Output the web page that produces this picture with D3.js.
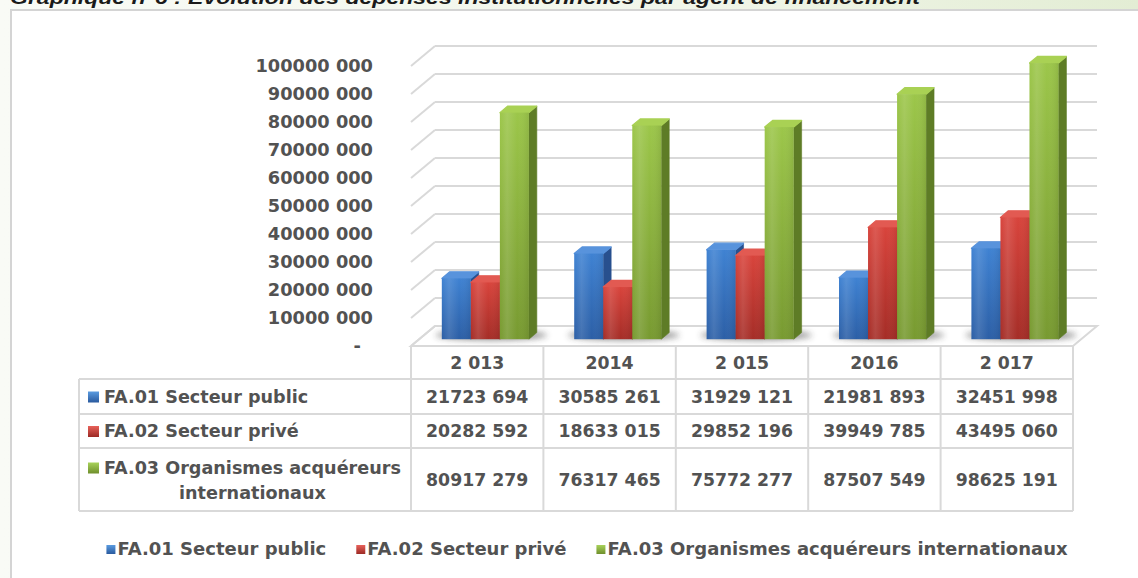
<!DOCTYPE html>
<html>
<head>
<meta charset="utf-8">
<script src="https://cdn.jsdelivr.net/npm/d3@7"></script>
<style>
  html, body { margin: 0; padding: 0; background: #ffffff; }
  svg { display: block; }
</style>
</head>
<body>
<script>
// ---------------- DATA ----------------
const categories = ["2 013", "2014", "2 015", "2016", "2 017"];
const seriesNames = ["FA.01 Secteur public", "FA.02 Secteur privé", "FA.03 Organismes acquéreurs internationaux"];
const seriesTableLines = [["FA.01 Secteur public"], ["FA.02 Secteur privé"], ["FA.03 Organismes acquéreurs", "internationaux"]];
const publicValues = [21723694, 30585261, 31929121, 21981893, 32451998];
const priveValues = [20282592, 18633015, 29852196, 39949785, 43495060];
const internationalValues = [80917279, 76317465, 75772277, 87507549, 98625191];
const yTickValues = [0, 10000000, 20000000, 30000000, 40000000, 50000000, 60000000, 70000000, 80000000, 90000000, 100000000];
const yTickLabels = ["-", "10000 000", "20000 000", "30000 000", "40000 000", "50000 000", "60000 000", "70000 000", "80000 000", "90000 000", "100000 000"];
const titleText = "Graphique n°6 : Evolution des dépenses institutionnelles par agent de financement";

const seriesValues = [publicValues, priveValues, internationalValues];

function fmtValue(v) {
  const th = Math.floor(v / 1000), r = v % 1000;
  return th + " " + String(r).padStart(3, "0");
}

// ---------------- LAYOUT ----------------
const W = 1138, H = 578;
const FONT = "'DejaVu Sans', Verdana, sans-serif";
const FS = 17.3;
const FS_AXIS = 17.8;
const FS_LEG = 18;
const TXT = "#525252";
const GRID = "#d9d9d9";
const DX = 24, DY = 20;      // depth projection of the plot
const D0 = 0.34, D1 = 0.67;  // depth position of the bars

const svg = d3.select("body").append("svg").attr("width", W).attr("height", H);
const defs = svg.append("defs");

// background gradient
const bg = defs.append("linearGradient").attr("id", "bg").attr("x1", 0).attr("x2", 1).attr("y1", 0).attr("y2", 0);
bg.append("stop").attr("offset", 0).attr("stop-color", "#f9fbf6");
bg.append("stop").attr("offset", 0.6).attr("stop-color", "#f1f6ea");
bg.append("stop").attr("offset", 1).attr("stop-color", "#e3edd4");

const colors = [
  { top: "#5893dc", f1: "#3f82d2", f2: "#2c5fa6", side: "#28508e", sq1: "#5a9be0", sq2: "#2a5a9e" },
  { top: "#e25a52", f1: "#d8443c", f2: "#a52d27", side: "#8a2520", sq1: "#e8615a", sq2: "#9c2a24" },
  { top: "#a9d154", f1: "#9cc64a", f2: "#789a31", side: "#5e7c26", sq1: "#a8d25a", sq2: "#6f8f2c" }
];
colors.forEach((c, i) => {
  const g = defs.append("linearGradient").attr("id", "front" + i).attr("x1", 0).attr("x2", 0).attr("y1", 0).attr("y2", 1);
  g.append("stop").attr("offset", 0).attr("stop-color", c.f1);
  g.append("stop").attr("offset", 1).attr("stop-color", c.f2);
  const h = defs.append("linearGradient").attr("id", "hl" + i).attr("x1", 0).attr("x2", 1).attr("y1", 0).attr("y2", 0);
  h.append("stop").attr("offset", 0).attr("stop-color", "#ffffff").attr("stop-opacity", 0.0);
  h.append("stop").attr("offset", 0.25).attr("stop-color", "#ffffff").attr("stop-opacity", 0.12);
  h.append("stop").attr("offset", 0.6).attr("stop-color", "#ffffff").attr("stop-opacity", 0.0);
  h.append("stop").attr("offset", 1).attr("stop-color", "#000000").attr("stop-opacity", 0.08);
  const s = defs.append("linearGradient").attr("id", "sq" + i).attr("x1", 0).attr("x2", 0).attr("y1", 0).attr("y2", 1);
  s.append("stop").attr("offset", 0).attr("stop-color", c.sq1);
  s.append("stop").attr("offset", 1).attr("stop-color", c.sq2);
});
defs.append("filter").attr("id", "blur").attr("x", "-50%").attr("y", "-50%").attr("width", "200%").attr("height", "200%")
  .append("feGaussianBlur").attr("stdDeviation", 3);

svg.append("rect").attr("x", 0).attr("y", 0).attr("width", W).attr("height", H).attr("fill", "url(#bg)");

// title (cut at the top, as in the source picture)
svg.append("text")
  .attr("x", 10).attr("y", 4)
  .attr("font-family", "'Liberation Sans', Arial, sans-serif")
  .attr("font-weight", "bold").attr("font-style", "italic")
  .attr("font-size", 18).attr("fill", "#1a1a1a")
  .attr("textLength", 910).attr("lengthAdjust", "spacingAndGlyphs")
  .text(titleText);

// chart frame
svg.append("rect").attr("x", 11).attr("y", 10).attr("width", 1150).attr("height", 600)
  .attr("fill", "#ffffff").attr("stroke", "#d4d4d4").attr("stroke-width", 2);

// ---------------- SCALES ----------------
const x = d3.scaleBand().domain(categories).range([411, 1073]).paddingInner(0).paddingOuter(0);
const xs = d3.scaleBand().domain([0, 1, 2]).range([0, x.bandwidth()]).paddingInner(0).paddingOuter(0.78);
const y = d3.scaleLinear().domain([0, 100000000]).range([346, 66]);

const plot = svg.append("g");

// floor
const y0 = y(0);
plot.append("path")
  .attr("d", `M${x.range()[0]},${y0} L${x.range()[0] + DX},${y0 - DY} L${x.range()[1] + DX},${y0 - DY} L${x.range()[1]},${y0} Z`)
  .attr("fill", "#ffffff").attr("stroke", GRID).attr("stroke-width", 2);

// gridlines: back wall + left side wall
yTickValues.forEach(v => {
  const yy = y(v);
  plot.append("line")
    .attr("x1", x.range()[0] + DX).attr("x2", x.range()[1] + DX)
    .attr("y1", yy - DY).attr("y2", yy - DY)
    .attr("stroke", GRID).attr("stroke-width", 2);
  plot.append("line")
    .attr("x1", x.range()[0]).attr("x2", x.range()[0] + DX)
    .attr("y1", yy).attr("y2", yy - DY)
    .attr("stroke", GRID).attr("stroke-width", 2);
});

// y axis labels
const yAxis = d3.axisLeft(y)
  .tickValues(yTickValues)
  .tickFormat((d, i) => yTickLabels[i])
  .tickSize(0).tickPadding(38);
const ya = plot.append("g").attr("transform", `translate(${x.range()[0]},0)`).call(yAxis);
ya.select(".domain").remove();
ya.selectAll("text")
  .attr("font-family", FONT).attr("font-weight", "bold").attr("font-size", FS_AXIS).attr("fill", TXT)
  .attr("dx", d => d === 0 ? -12 : 0);

// shadows under bar groups
categories.forEach(cat => {
  const gx = x(cat) + xs(0) + DX * D0;
  const gw = xs.bandwidth() * 3;
  const yb = y(0) - DY * D0;
  plot.append("ellipse")
    .attr("cx", gx + gw / 2 + 6).attr("cy", yb - 4)
    .attr("rx", gw / 2 + 12).attr("ry", 5)
    .attr("fill", "#333").attr("opacity", 0.55).attr("filter", "url(#blur)");
});

// bars
const ddx = DX * (D1 - D0), ddy = DY * (D1 - D0);
categories.forEach((cat, j) => {
  seriesValues.forEach((vals, i) => {
    const w = xs.bandwidth();
    const x0 = x(cat) + xs(i) + DX * D0;
    const yb = y(0) - DY * D0;
    const yt = y(vals[j]) - DY * D0;
    const g = plot.append("g");
    g.append("path")
      .attr("d", `M${x0 + w},${yt} L${x0 + w + ddx},${yt - ddy} L${x0 + w + ddx},${yb - ddy} L${x0 + w},${yb} Z`)
      .attr("fill", colors[i].side).attr("stroke", colors[i].side).attr("stroke-width", 0.6).attr("stroke-linejoin", "round");
    g.append("path")
      .attr("d", `M${x0},${yt} L${x0 + ddx},${yt - ddy} L${x0 + w + ddx},${yt - ddy} L${x0 + w},${yt} Z`)
      .attr("fill", colors[i].top).attr("stroke", colors[i].top).attr("stroke-width", 1.2).attr("stroke-linejoin", "round");
    g.append("rect").attr("x", x0).attr("y", yt).attr("width", w).attr("height", yb - yt)
      .attr("fill", `url(#front${i})`);
    g.append("rect").attr("x", x0).attr("y", yt).attr("width", w).attr("height", yb - yt)
      .attr("fill", `url(#hl${i})`);
  });
});

// ---------------- DATA TABLE ----------------
const tbl = svg.append("g");
const tLeft = 79, tRight = x.range()[1];
const rowLines = [346, 379, 414, 448, 511];
const colX = categories.map(c => x(c)).concat([tRight]);

tbl.append("line").attr("x1", colX[0]).attr("x2", tRight).attr("y1", rowLines[0]).attr("y2", rowLines[0]);
rowLines.slice(1).forEach(yy => {
  tbl.append("line").attr("x1", tLeft).attr("x2", tRight).attr("y1", yy).attr("y2", yy);
});
tbl.append("line").attr("x1", tLeft).attr("x2", tLeft).attr("y1", rowLines[1]).attr("y2", rowLines[4]);
colX.forEach(cx => {
  tbl.append("line").attr("x1", cx).attr("x2", cx).attr("y1", rowLines[0]).attr("y2", rowLines[4]);
});
tbl.selectAll("line").attr("stroke", GRID).attr("stroke-width", 2);

const txtStyle = (sel, fs) => sel.attr("font-family", FONT).attr("font-weight", "bold").attr("font-size", fs || FS).attr("fill", TXT);

categories.forEach(cat => {
  tbl.append("text").attr("x", x(cat) + x.bandwidth() / 2).attr("y", (rowLines[0] + rowLines[1]) / 2)
    .attr("dy", "0.36em").attr("text-anchor", "middle").call(txtStyle).text(cat);
});
seriesValues.forEach((vals, i) => {
  const top = rowLines[i + 1], bot = rowLines[i + 2], mid = (top + bot) / 2;
  vals.forEach((v, j) => {
    tbl.append("text").attr("x", x(categories[j]) + x.bandwidth() / 2).attr("y", mid)
      .attr("dy", "0.36em").attr("text-anchor", "middle").call(txtStyle).text(fmtValue(v));
  });
  const lines = seriesTableLines[i];
  const textX = 104;
  if (lines.length === 1) {
    tbl.append("rect").attr("x", 88).attr("y", mid - 5).attr("width", 11).attr("height", 11).attr("fill", `url(#sq${i})`);
    tbl.append("text").attr("x", textX).attr("y", mid).attr("dy", "0.36em").call(txtStyle, 17.6).text(lines[0]);
  } else {
    const l1 = mid - 12, l2 = mid + 13;
    tbl.append("rect").attr("x", 88).attr("y", l1 - 5).attr("width", 11).attr("height", 11).attr("fill", `url(#sq${i})`);
    const t1 = tbl.append("text").attr("x", textX).attr("y", l1).attr("dy", "0.36em").call(txtStyle, 17.6).text(lines[0]);
    const w1 = t1.node().getComputedTextLength();
    tbl.append("text").attr("x", textX + w1 / 2).attr("y", l2).attr("dy", "0.36em").attr("text-anchor", "middle")
      .call(txtStyle, 17.6).text(lines[1]);
  }
});

// ---------------- LEGEND ----------------
const leg = svg.append("g");
const legY = 549;
const items = [];
seriesNames.forEach((name, i) => {
  const g = leg.append("g");
  g.append("rect").attr("x", 0).attr("y", legY - 4).attr("width", 9).attr("height", 9).attr("fill", `url(#sq${i})`);
  const t = g.append("text").attr("x", 11).attr("y", legY).attr("dy", "0.36em").call(txtStyle, FS_LEG).text(name);
  const w = 11 + t.node().getComputedTextLength();
  items.push({ g, w });
});
const gap = 30;
const total = d3.sum(items, d => d.w) + gap * (items.length - 1);
let cursor = 587 - total / 2;
items.forEach(it => {
  it.g.attr("transform", `translate(${cursor},0)`);
  cursor += it.w + gap;
});
</script>
</body>
</html>
